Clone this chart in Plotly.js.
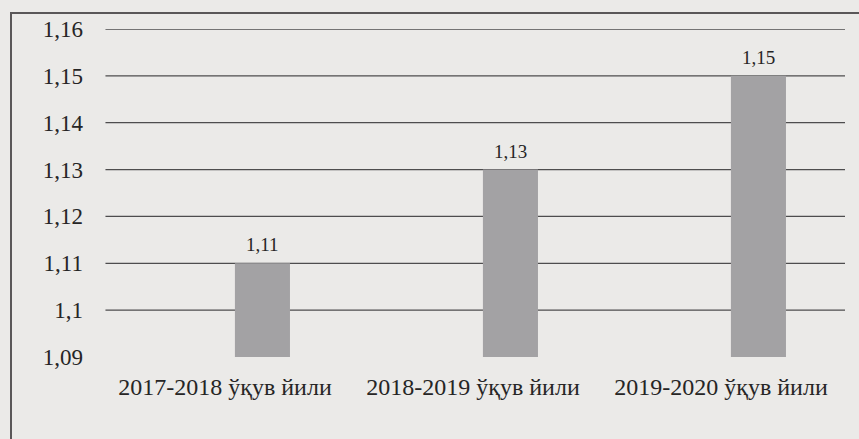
<!DOCTYPE html>
<html>
<head>
<meta charset="utf-8">
<script src="https://cdn.plot.ly/plotly-3.0.1.min.js"></script>
<style>
  html, body { margin: 0; padding: 0; background: #ebeae8; overflow: hidden; }
  #wrap { position: relative; width: 859px; height: 439px; }
  #chart { position: absolute; left: 0; top: 0; width: 859px; height: 439px; }
  #frame { position: absolute; left: 10px; top: 12px; width: 900px; height: 500px;
           border-top: 2px solid #5a5758; border-left: 2px solid #5a5758; pointer-events: none; }
</style>
</head>
<body>
<div id="wrap">
  <div id="chart"></div>
  <div id="frame"></div>
</div>
<script>
const categories = ['2017-2018 ўқув йили', '2018-2019 ўқув йили', '2019-2020 ўқув йили'];
const values = [1.11, 1.13, 1.15];
const valueLabels = ['1,11', '1,13', '1,15'];
const yTickVals = [1.09, 1.10, 1.11, 1.12, 1.13, 1.14, 1.15, 1.16];
const yTickText = ['1,09', '1,1', '1,11', '1,12', '1,13', '1,14', '1,15', '1,16'];
const gridVals = [1.10, 1.11, 1.12, 1.13, 1.14, 1.15, 1.16];

const barWidth = 0.222;
const barOffset = 0.04;
const barColor = '#a3a2a4';
const textColor = '#262525';
const fontFam = 'Liberation Serif';

const trace = {
  type: 'bar',
  x: categories,
  y: values,
  width: barWidth,
  offset: barOffset,
  marker: { color: barColor, line: { width: 0 } },
  hoverinfo: 'skip'
};

const annotations = categories.map((c, i) => ({
  x: c, y: values[i], xref: 'x', yref: 'y',
  text: valueLabels[i],
  showarrow: false,
  xanchor: 'center', yanchor: 'bottom',
  xshift: (barOffset + barWidth / 2) * 248,
  yshift: 6,
  font: { family: fontFam, size: 19, color: textColor }
}));

const shapes = gridVals.map(v => ({
  type: 'line', xref: 'paper', yref: 'y',
  x0: 0.006, x1: 1, y0: v, y1: v,
  layer: 'below',
  line: { color: '#4e4d4e', width: 1.3 }
}));

const layout = {
  width: 859, height: 439,
  margin: { l: 101, r: 14, t: 29, b: 82 },
  paper_bgcolor: '#ebeae8',
  plot_bgcolor: '#ebeae8',
  showlegend: false,
  font: { family: fontFam, color: textColor },
  xaxis: {
    type: 'category',
    range: [-0.5, 2.5],
    showgrid: false, zeroline: false, showline: false,
    ticks: '',
    ticklabelstandoff: 13,
    tickfont: { family: fontFam, size: 24, color: textColor },
    fixedrange: true
  },
  yaxis: {
    range: [1.09, 1.16],
    tickmode: 'array',
    tickvals: yTickVals,
    ticktext: yTickText,
    showgrid: false, zeroline: false, showline: false,
    ticks: '',
    ticklabelstandoff: 17,
    tickfont: { family: fontFam, size: 23, color: textColor },
    fixedrange: true
  },
  shapes: shapes,
  annotations: annotations
};

Plotly.newPlot('chart', [trace], layout, { displayModeBar: false, staticPlot: true });
</script>
</body>
</html>
